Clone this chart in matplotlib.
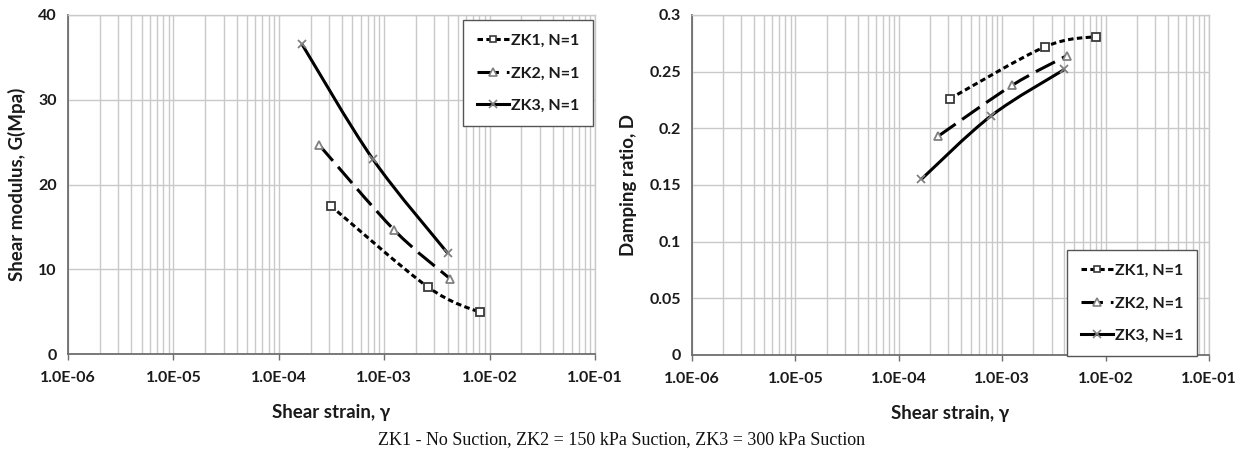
import numpy as np
import matplotlib
matplotlib.use("Agg")
import matplotlib.pyplot as plt
from matplotlib.path import Path
from matplotlib.patches import PathPatch
from matplotlib.lines import Line2D
from matplotlib.ticker import LogLocator, FixedLocator, FuncFormatter

# ---- data ----
series = ["ZK1, N=1", "ZK2, N=1", "ZK3, N=1"]
strain_zk1 = [3.1e-4, 2.6e-3, 8.1e-3]
strain_zk2 = [2.4e-4, 1.25e-3, 4.2e-3]
strain_zk3 = [1.65e-4, 7.8e-4, 4.0e-3]
shear_mod_zk1 = [17.5, 7.9, 4.9]
shear_mod_zk2 = [24.7, 14.6, 8.9]
shear_mod_zk3 = [36.6, 23.0, 11.9]
damping_zk1 = [0.226, 0.272, 0.281]
damping_zk2 = [0.193, 0.238, 0.264]
damping_zk3 = [0.155, 0.211, 0.252]
x_ticks = [1e-6, 1e-5, 1e-4, 1e-3, 1e-2, 1e-1]
caption = "ZK1 - No Suction, ZK2 = 150 kPa Suction, ZK3 = 300 kPa Suction"

W, H = 1244, 453
fig = plt.figure(figsize=(W / 100, H / 100), dpi=100)
fig.patch.set_facecolor("white")

FONT = ["Lato", "DejaVu Sans"]
GRID = "#c9c9c9"

styles = [
    dict(dashes=(1.8, 1.1), marker="s", ms=5.5, mec="#3a3a3a"),
    dict(dashes=(7.0, 2.6), marker="^", ms=6.0, mec="#808080"),
    dict(dashes=None, marker="x", ms=6.0, mec="#808080"),
]


def smooth_path(xs, ys):
    """Catmull-Rom style Bezier through the points, built in log-x space."""
    lx = np.log10(np.asarray(xs, float))
    y = np.asarray(ys, float)
    pts = np.column_stack([lx, y])
    n = len(pts)
    verts = [pts[0]]
    codes = [Path.MOVETO]
    for i in range(n - 1):
        p0 = pts[i - 1] if i > 0 else pts[i]
        p1 = pts[i]
        p2 = pts[i + 1]
        p3 = pts[i + 2] if i + 2 < n else pts[i + 1]
        c1 = p1 + (p2 - p0) / 6.0
        c2 = p2 - (p3 - p1) / 6.0
        verts += [c1, c2, p2]
        codes += [Path.CURVE4] * 3
    verts = np.array(verts)
    verts[:, 0] = 10 ** verts[:, 0]
    return Path(verts, codes)


def draw_panel(rect, xs_list, ys_list, ylim, yticks, ylabel, yfmt, legend_anchor):
    ax = fig.add_axes(rect)
    ax.set_xscale("log")
    ax.set_xlim(x_ticks[0], x_ticks[-1])
    ax.set_ylim(*ylim)
    ax.xaxis.set_major_locator(FixedLocator(x_ticks))
    ax.xaxis.set_minor_locator(LogLocator(base=10, subs=np.arange(2, 10), numticks=20))
    ax.xaxis.set_major_formatter(FuncFormatter(lambda v, p: f"{v:.1E}"))
    ax.yaxis.set_major_locator(FixedLocator(yticks))
    ax.yaxis.set_major_formatter(FuncFormatter(yfmt))
    ax.grid(True, which="major", color=GRID, lw=1.0)
    ax.grid(True, which="minor", axis="x", color=GRID, lw=1.0)
    ax.set_axisbelow(True)
    for s in ["top", "right"]:
        ax.spines[s].set_color(GRID)
        ax.spines[s].set_linewidth(1.0)
    for s in ["left", "bottom"]:
        ax.spines[s].set_color("#6e6e6e")
        ax.spines[s].set_linewidth(1.3)
    ax.tick_params(axis="both", which="major", direction="out", length=4,
                   color="#6e6e6e", width=1.0, pad=8)
    ax.tick_params(axis="y", which="major", length=0, pad=8)
    ax.tick_params(axis="x", which="minor", length=0)
    for lab in ax.get_xticklabels() + ax.get_yticklabels():
        lab.set_fontfamily(FONT)
        lab.set_fontweight("bold")
        lab.set_fontsize(11.5)
        lab.set_color("#1a1a1a")

    handles = []
    for xs, ys, st, name in zip(xs_list, ys_list, styles, series):
        ls = "-" if st["dashes"] is None else (0, st["dashes"])
        patch = PathPatch(smooth_path(xs, ys), fill=False, edgecolor="black",
                          lw=2.2, linestyle=ls, capstyle="butt", zorder=3)
        ax.add_patch(patch)
        ax.plot(xs, ys, ls="none", marker=st["marker"], ms=st["ms"],
                mfc="white" if st["marker"] != "x" else "none",
                mec=st["mec"], mew=1.3, zorder=4)
        handles.append(Line2D([], [], color="black", lw=2.2, linestyle=ls,
                              marker=st["marker"], ms=st["ms"] - 0.5,
                              mfc="white" if st["marker"] != "x" else "none",
                              mec=st["mec"], mew=1.2))

    ax.set_xlabel("Shear strain, γ", fontfamily=FONT, fontweight="bold",
                  fontsize=13.5, labelpad=14, color="#1a1a1a")
    ax.set_ylabel(ylabel, fontfamily=FONT, fontweight="bold", fontsize=13.5,
                  labelpad=9, color="#1a1a1a")

    leg = fig.legend(handles, series, loc=legend_anchor[0],
                     bbox_to_anchor=legend_anchor[1], bbox_transform=fig.transFigure,
                     frameon=True, fancybox=False, framealpha=1, edgecolor="#555555",
                     prop=dict(family=FONT, weight="bold", size=11.5),
                     handlelength=2.0, handletextpad=0.15, labelspacing=1.15,
                     borderpad=0.85, borderaxespad=0)
    leg.get_frame().set_linewidth(1.0)
    for t in leg.get_texts():
        t.set_color("#1a1a1a")
    return ax


def fx(px):
    return px / W


def fy(py):
    return 1 - py / H


draw_panel([fx(68), fy(354), fx(595 - 68), (354 - 15) / H],
           [strain_zk1, strain_zk2, strain_zk3],
           [shear_mod_zk1, shear_mod_zk2, shear_mod_zk3],
           (0, 40), [0, 10, 20, 30, 40], "Shear modulus, G(Mpa)",
           lambda v, p: f"{v:g}",
           ("upper left", (fx(463), fy(20))))

draw_panel([fx(692), fy(355), fx(1209 - 692), (355 - 15) / H],
           [strain_zk1, strain_zk2, strain_zk3],
           [damping_zk1, damping_zk2, damping_zk3],
           (0, 0.3), [0, 0.05, 0.1, 0.15, 0.2, 0.25, 0.3], "Damping ratio, D",
           lambda v, p: f"{v:g}",
           ("upper left", (fx(1067), fy(250))))

fig.text(0.5, fy(440), caption, ha="center", va="center",
         fontfamily="Liberation Serif", fontsize=13, color="#111111")

fig.savefig("out.png", dpi=100)
